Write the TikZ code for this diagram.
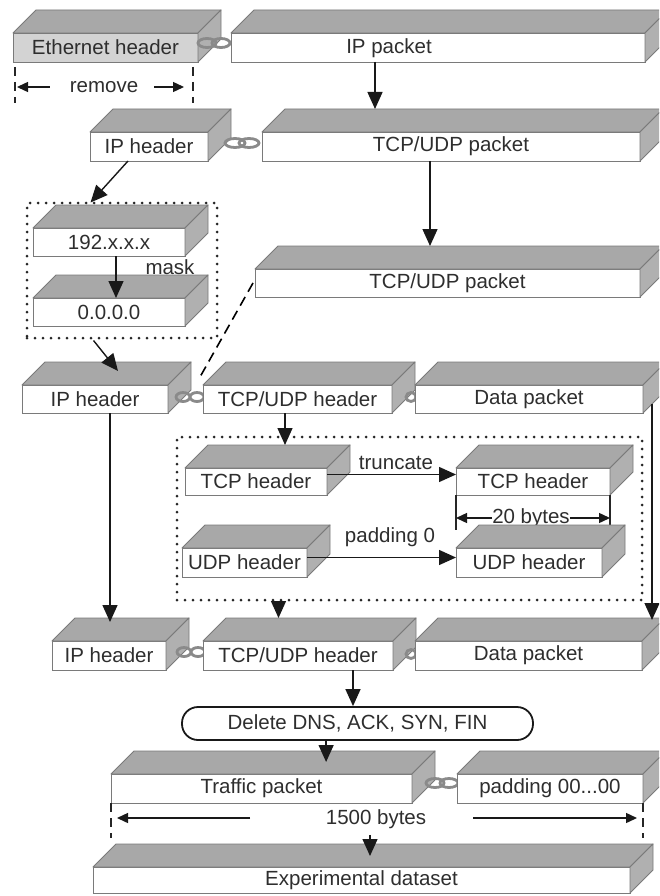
\documentclass[tikz,border=0pt]{standalone}
\usepackage{fontspec}
\setmainfont{Liberation Sans}
\usetikzlibrary{arrows.meta,calc}

\definecolor{facegray}{HTML}{A8A8A8}
\definecolor{sidegray}{HTML}{B0B0B0}
\definecolor{edgegray}{HTML}{7A7A7A}
\definecolor{ethgray}{HTML}{D3D3D3}
\definecolor{inkgray}{HTML}{2E2E2E}
\definecolor{linkgray}{HTML}{8A8A8A}

\tikzset{
  front/.style={draw=edgegray, line width=0.9pt, inner sep=0pt, outer sep=0pt,
    text=inkgray, font=\fontsize{20.5}{24}\selectfont},
  face/.style={draw=edgegray, line width=0.9pt, fill=facegray, line join=round},
  sideface/.style={face, fill=sidegray},
  arr/.style={draw=black!90, line width=1.4pt, -{Triangle[length=17pt,width=15pt]}},
  measarr/.style={draw=black!90, line width=1.4pt, -{Triangle[length=11pt,width=10pt]}},
  tickline/.style={draw=black!85, line width=1.3pt},
  dashtick/.style={tickline, dash pattern=on 9pt off 6pt},
  grp/.style={draw=black!85, line width=3pt, dash pattern=on 0pt off 8pt,
    line cap=round, inner sep=0pt},
  lbl/.style={text=inkgray, inner sep=0pt, font=\fontsize{20.5}{24}\selectfont},
  pill/.style={draw=black!90, line width=1.8pt, rounded corners=16pt, fill=white,
    text=inkgray, inner sep=0pt, font=\fontsize{20.5}{24}\selectfont},
  link/.style={draw=linkgray, line width=2.8pt},
}

% 3-D slab: [front fill]{name}{x1}{y1}{x2}{y2}{text}; depth 23 up and right
\newcommand\slab[7][white]{%
  \node[front, fill=#1, minimum width={#5-#3}, minimum height={#6-#4}]
    (#2) at ({(#3+#5)/2},{(#4+#6)/2}) {#7};
  \draw[face] (#2.north west) -- ++(23,-23) -- ++({#5-#3},0) -- (#2.north east) -- cycle;
  \draw[sideface] (#2.north east) -- ++(23,-23) -- ++(0,{#6-#4}) -- (#2.south east) -- cycle;
  \coordinate (#2-t) at ($(#2.north west)+(23,-23)$);
}
% chain link joining two slabs: {cx}{cy}{x radius}
\newcommand\chainlink[3]{%
  \draw[link] ({#1-7},#2) ellipse [x radius=#3, y radius=4.5pt];
  \draw[link] ({#1+7},#2) ellipse [x radius=#3, y radius=4.5pt];
}
\newcommand\halflink[2]{%
  \draw[link] (#1,#2) ellipse [x radius=5pt, y radius=4.5pt];
}

\begin{document}
\begin{tikzpicture}[x=1pt,y=-1pt]
\fill[white] (0,0) rectangle (659,896);
\clip (0,0) rectangle (659,896);

% ---------- Ethernet frame ----------
\slab[ethgray]{eth}{13}{33}{198}{62}{Ethernet header}
\chainlink{214}{43}{9pt}
\slab{ippkt}{231}{33}{645}{62}{}
\node[lbl] (ippkt-text) at (389,48) {IP packet};

% remove marker
\node[lbl] (remove) at (104,87) {remove};
\draw[dashtick] ($(eth.south west)+(2,5)$) -- ++(0,36);
\draw[dashtick] ($(eth.south east)+(-5,5)$) -- ++(0,36);
\draw[measarr] ($(remove.west)+(-20,0)$) -- ($(remove.west -| eth.west)+(4,0)$);
\draw[measarr] ($(remove.east)+(16,0)$) -- ($(remove.east -| eth.east)+(-14,0)$);

% ---------- IP packet split ----------
\slab{iph1}{90}{132}{208}{161}{IP header}
\chainlink{242}{143}{10pt}
\slab{tcpudp1}{262}{132}{640}{161}{TCP/UDP packet}

% address masking group
\node[grp, minimum width=190pt, minimum height=135pt] (grp1) at (122,270.5) {};
\slab{ip192}{33}{228}{185}{256}{192.x.x.x}
\slab{ip000}{33}{298}{185}{326}{0.0.0.0}
\node[lbl] (mask) at (170,267) {mask};

\slab{tcpudp2}{255}{269}{640}{297}{TCP/UDP packet}

% ---------- header split ----------
\slab{iph2}{22}{385}{168}{413}{IP header}
\chainlink{190}{397}{7pt}
\slab{tcpudph1}{203}{385}{392}{413}{TCP/UDP header}
\halflink{411}{397}
\slab{data1}{415}{385}{643}{413}{Data packet}

% header length normalisation group
\node[grp, minimum width=465pt, minimum height=163pt] (grp2) at (409.5,518.5) {};
\slab{tcph1}{185}{468}{327}{495}{TCP header}
\slab{tcph2}{456}{468}{610}{495}{TCP header}
\slab{udph1}{182}{548}{307}{577}{UDP header}
\node[lbl] (b20) at (531,518) {20 bytes};
\draw[tickline] (tcph2.south west) -- ++(0,35);
\draw[tickline] (tcph2.south east) -- ++(0,35);
\draw[measarr] (b20.west) -- (b20.west -| tcph2.south west);
\draw[measarr] (b20.east) -- (b20.east -| tcph2.south east);
\slab{udph2}{456}{548}{602}{577}{UDP header}

\node[lbl] (trunc) at (396,463) {truncate};
\node[lbl] (pad0) at (390,537) {padding 0};

% ---------- reassembled packet ----------
\slab{iph3}{52}{641}{166}{670}{IP header}
\chainlink{191}{652}{7pt}
\slab{tcpudph2}{203}{641}{393}{670}{TCP/UDP header}
\halflink{411}{654}
\slab{data2}{415}{641}{642}{670}{Data packet}

\node[pill, minimum width=351pt, minimum height=33pt] (pill) at (357.5,723.5)
  {Delete DNS, ACK, SYN, FIN};

% ---------- fixed length output ----------
\slab{traffic}{111}{774}{412}{803}{Traffic packet}
\chainlink{442}{783}{9pt}
\slab{padding}{457}{774}{643}{803}{padding 00...00}

\node[lbl] (b1500) at (376,819) {1500 bytes};
\draw[dashtick] (traffic.south west) -- ++(0,35);
\draw[dashtick] (padding.south east) -- ++(0,35);
\draw[measarr] ($(traffic.south west)+(139,15)$) -- ($(traffic.south west)+(6,15)$);
\draw[measarr] ($(padding.south east)+(-170,15)$) -- ($(padding.south east)+(-6,15)$);

\slab{expds}{93}{867}{630}{893}{Experimental dataset}

% ---------- connectors ----------
\path (ippkt.south west) ++(144,0) coordinate (a1);
\draw[arr] (a1) -- (a1 |- tcpudp1-t);
\path (tcpudp1.south west) ++(168,0) coordinate (b1);
\draw[arr] (b1) -- (b1 |- tcpudp2-t);
\draw[arr] ($(iph1.south west)+(38,0)$) -- ($(grp1.north west)+(65,1)$);
\path (ip192.south west) ++(83,0) coordinate (d1);
\draw[arr] (d1) -- (d1 |- ip000.north);
\draw[arr] ($(grp1.south west)+(68,1)$) -- ($(iph2.north west)+(96,-14)$);
\draw[line width=1.6pt, dash pattern=on 10pt off 6pt]
  ($(tcpudp2.west)+(-2,0)$) -- ($(tcpudph1.north west)+(-3,-8)$);
\path (tcpudph1.south west) ++(82,0) coordinate (g1);
\draw[arr] (g1) -- (g1 |- tcph1-t);
\draw[arr] ($(tcph1.east)+(0,-7)$) -- ($(tcph2.west)+(0,-7)$);
\draw[arr] ($(udph1.east)+(0,-5)$) -- ($(udph2.west)+(0,-5)$);
\path (iph2.south west) ++(88,0) coordinate (j1);
\draw[arr] (j1) -- ($(j1 |- iph3-t)+(0,4)$);
\path (grp2.south west) ++(103,0) coordinate (k1);
\draw[arr] (k1) -- (k1 |- tcpudph2-t);
\path (data1.south east) ++(9,-9) coordinate (l1);
\draw[arr] (l1) -- ($(l1 |- data2-t)+(0,2)$);
\path (tcpudph2.south west) ++(150,0) coordinate (m1);
\draw[arr] (m1) -- (m1 |- pill.north);
\path (pill.south west) ++(145,0) coordinate (n1);
\draw[arr] (n1) -- ($(n1 |- traffic-t)+(0,11)$);
\path (b1500.south) ++(-6,6) coordinate (o1);
\draw[arr] (o1) -- ($(o1 |- expds-t)+(0,12)$);
\end{tikzpicture}
\end{document}
